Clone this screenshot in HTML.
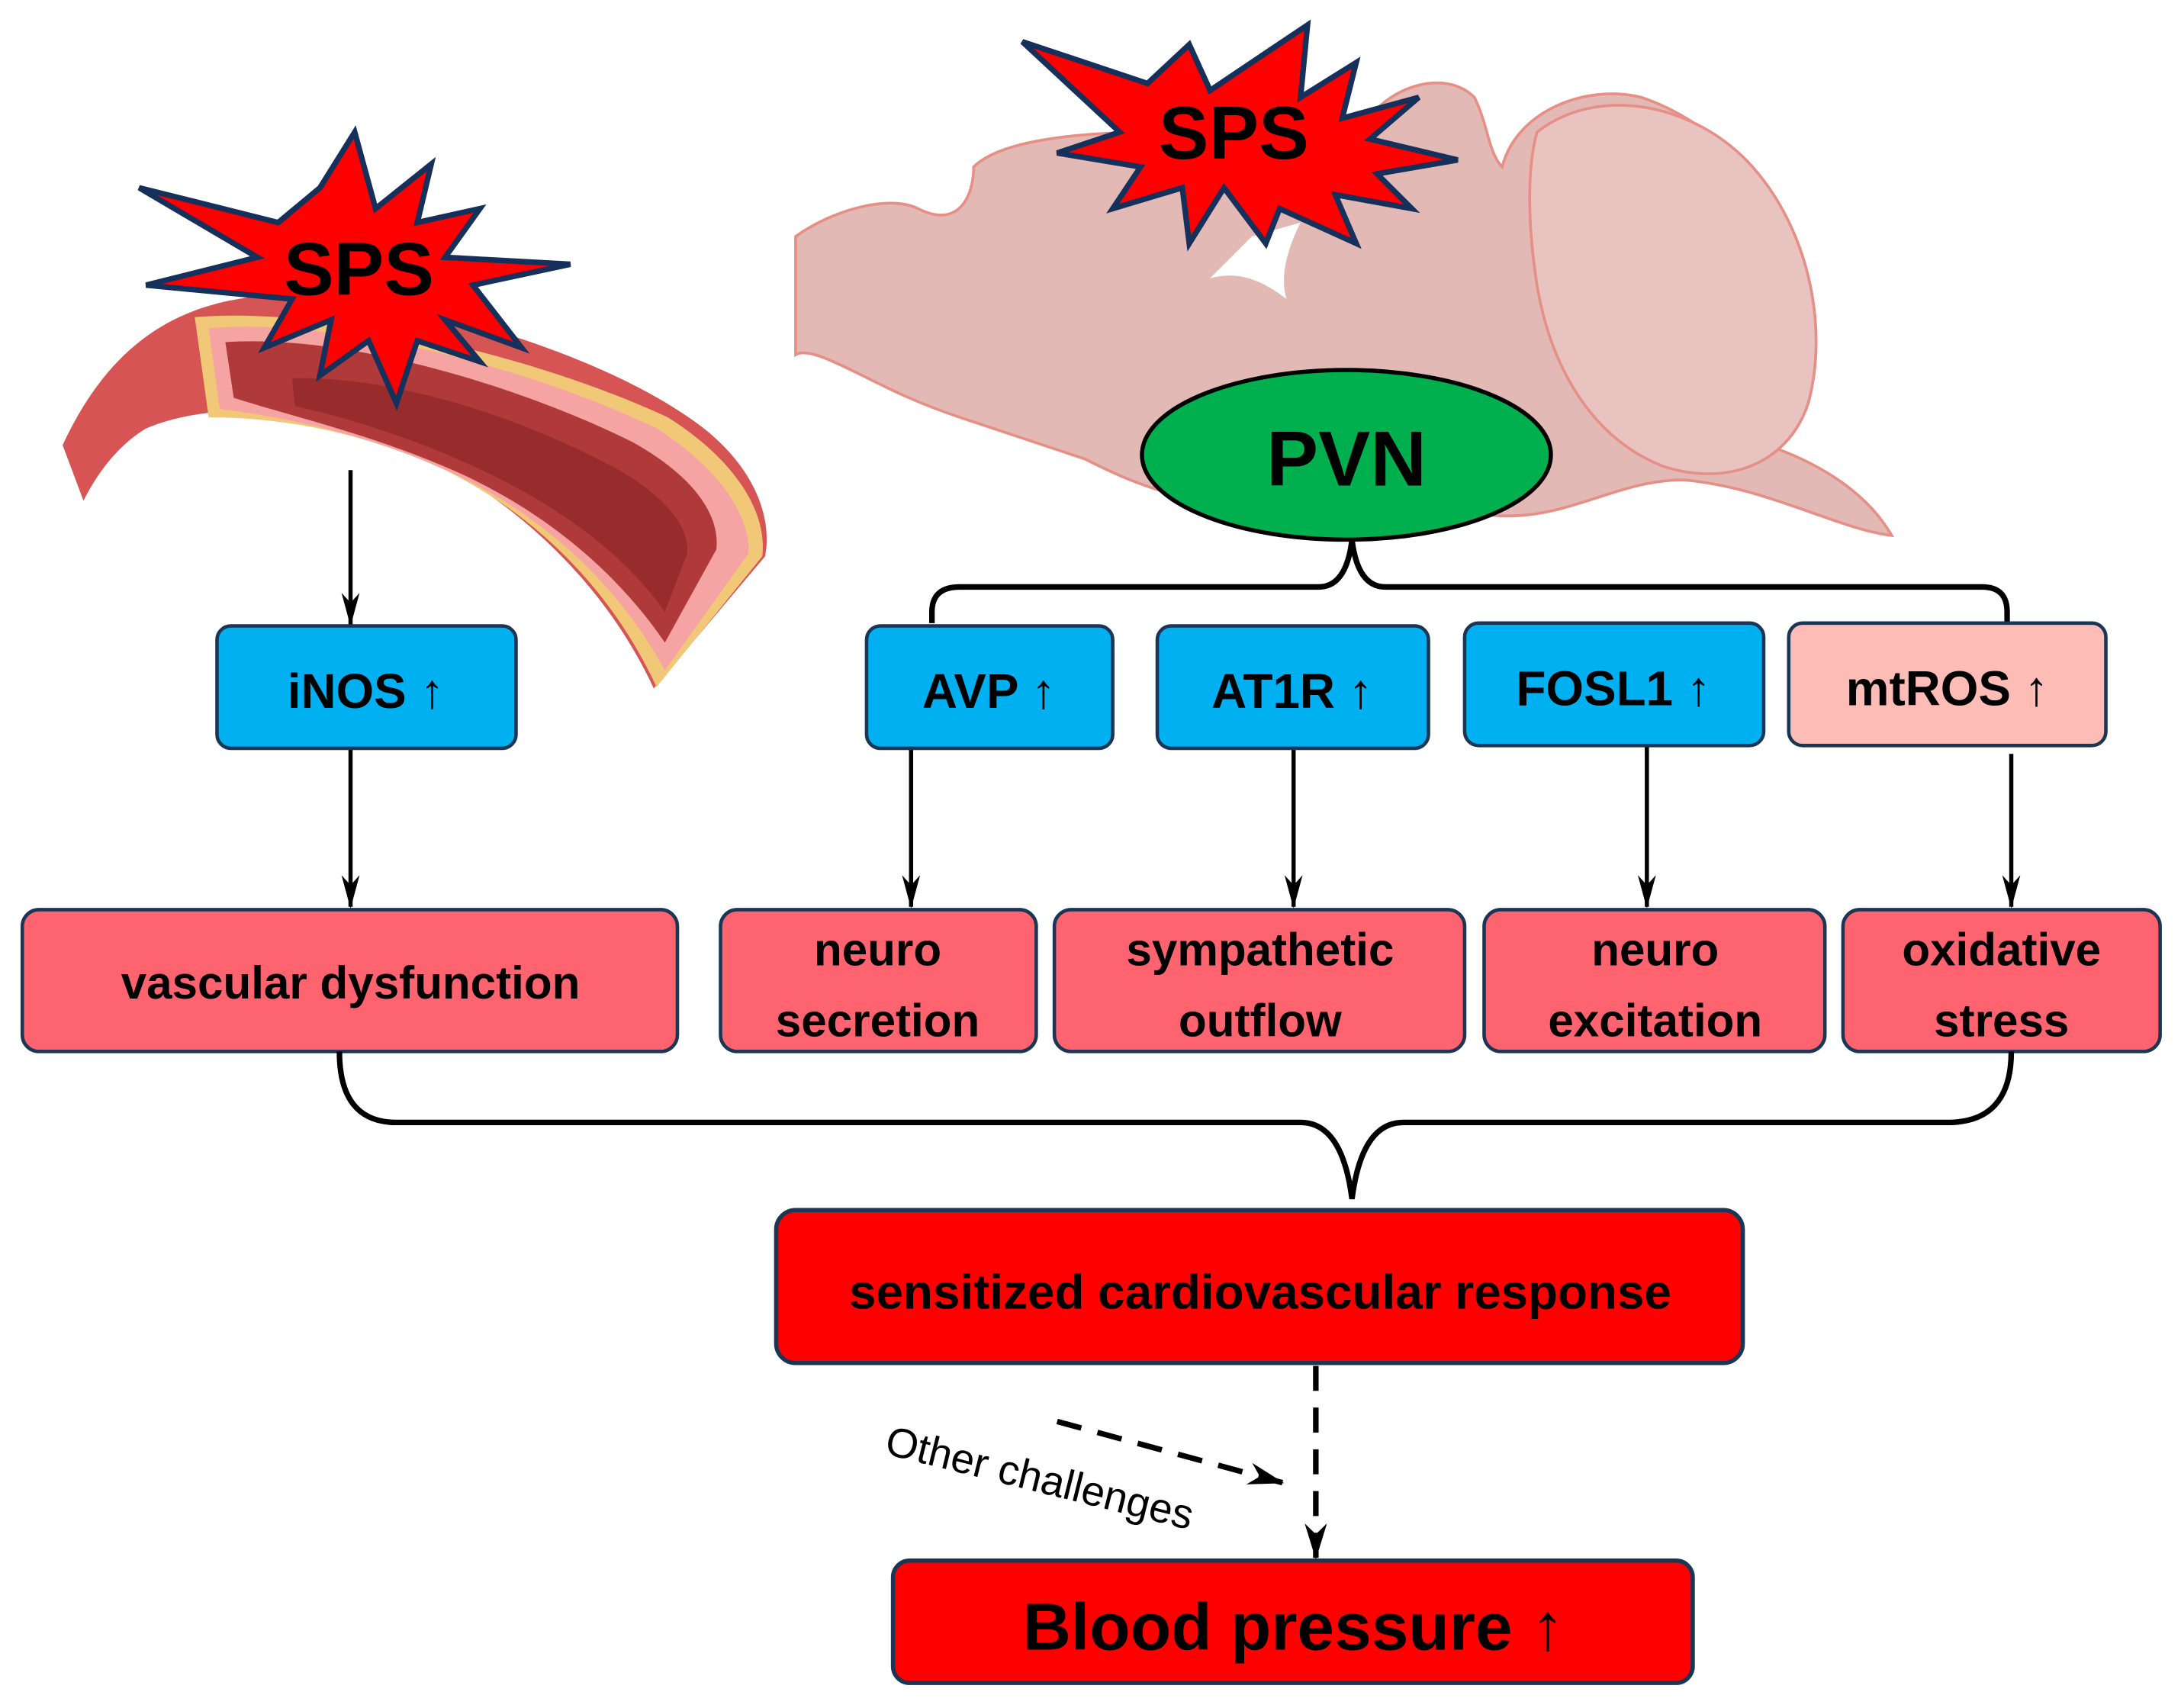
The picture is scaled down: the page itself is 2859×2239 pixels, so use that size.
<!DOCTYPE html>
<html><head><meta charset="utf-8"><style>
html,body{margin:0;padding:0;background:#fff;}
svg{display:block;}
text{font-family:"Liberation Sans",sans-serif;font-weight:bold;fill:#000;}
</style></head><body>
<svg width="2859" height="2239" viewBox="0 0 1568 1228" xmlns="http://www.w3.org/2000/svg">
<defs>
<marker id="ah" viewBox="0 0 10 10" refX="9.5" refY="5" markerWidth="24" markerHeight="13" orient="auto" markerUnits="userSpaceOnUse" preserveAspectRatio="none">
<path d="M0,0 L10,5 L0,10 L3,5 z" fill="#000"/></marker>
<marker id="ah2" viewBox="0 0 10 10" refX="9.5" refY="5" markerWidth="26" markerHeight="16" orient="auto" markerUnits="userSpaceOnUse" preserveAspectRatio="none">
<path d="M0,0 L10,5 L0,10 L3,5 z" fill="#000"/></marker>
</defs>

<!-- Brain -->
<path d="M572,170 C600,150 640,140 660,150 C690,165 700,140 700,120 C720,100 780,95 830,95 L980,90 C1000,60 1040,50 1060,70 C1070,90 1070,110 1080,120 C1090,80 1140,60 1180,70 C1240,90 1290,150 1300,200 C1310,260 1300,300 1270,320 C1300,330 1340,350 1360,385 C1320,380 1270,350 1210,345 C1170,345 1140,365 1100,370 C1060,375 1040,360 1000,360 C960,360 900,370 860,360 C820,350 800,340 780,330 C750,320 720,310 690,300 C660,290 640,280 620,270 C600,260 580,250 572,255 Z" fill="#e3b9b5" stroke="#e58f86" stroke-width="2"/>
<path d="M1105,95 C1150,60 1220,75 1260,120 C1300,165 1315,235 1300,290 C1285,335 1240,350 1195,335 C1145,315 1115,265 1105,205 C1098,160 1098,120 1105,95 Z" fill="#e8c3c0" stroke="#e58f86" stroke-width="2"/>
<path d="M935,160 C925,180 920,200 925,215 C905,200 890,195 870,200 L900,170 Z" fill="#fff"/>

<!-- Vessel -->
<path d="M45,320 C80,245 130,215 200,212 C300,212 430,255 495,300 C540,330 556,370 550,400 L470,495 C440,430 385,370 310,330 C240,295 160,285 105,308 C85,320 70,340 60,360 Z" fill="#d65454"/>
<path d="M140,228 C240,220 390,258 480,300 C528,330 552,368 548,400 L472,494 C445,435 395,375 320,338 C260,310 200,300 150,300 Z" fill="#f0c878"/>
<path d="M150,236 C245,228 385,266 472,308 C515,335 540,370 538,398 L478,482 C450,430 400,375 325,340 C265,312 205,300 158,294 Z" fill="#f5a3a3"/>
<path d="M162,246 C250,240 375,278 455,318 C498,342 518,370 515,395 L478,462 C448,418 400,372 330,340 C270,313 212,300 168,286 Z" fill="#b03a3a"/>
<path d="M210,272 C290,270 385,305 445,338 C480,358 496,380 494,398 L478,440 C450,400 405,365 340,335 C290,312 240,298 212,292 Z" fill="#982c2c"/>

<!-- Stars -->
<polygon points="255,95 270,150 310,118 300,160 345,150 320,185 410,190 340,205 375,250 320,230 345,260 300,245 285,290 265,245 230,270 238,230 190,250 210,215 105,205 185,185 100,135 200,160 230,135" fill="#fe0000" stroke="#15305a" stroke-width="4"/>
<text x="258" y="212" font-size="54" text-anchor="middle">SPS</text>
<polygon points="940,18 935,70 975,45 965,85 1020,70 985,100 1048,115 990,125 1015,150 960,140 975,175 920,150 910,175 880,135 855,175 850,135 800,150 820,120 760,110 805,95 735,30 825,60 855,32 870,65" fill="#fe0000" stroke="#15305a" stroke-width="4"/>
<text x="887" y="114" font-size="54" text-anchor="middle">SPS</text>

<!-- PVN -->
<ellipse cx="968" cy="327" rx="147" ry="61" fill="#00b04f" stroke="#000" stroke-width="3"/>
<text x="968" y="349" font-size="56" text-anchor="middle">PVN</text>

<!-- Top bracket -->
<path d="M670,448 L670,440 Q670,422 690,422 L948,422 Q968,422 972,388 Q976,422 996,422 L1425,422 Q1443,422 1443,440 L1443,448" fill="none" stroke="#000" stroke-width="4"/>

<!-- Arrows -->
<g stroke="#000" stroke-width="3" fill="none" marker-end="url(#ah)">
<line x1="252" y1="338" x2="252" y2="449"/>
<line x1="252" y1="538" x2="252" y2="652"/>
<line x1="655" y1="538" x2="655" y2="652"/>
<line x1="930" y1="538" x2="930" y2="652"/>
<line x1="1184" y1="536" x2="1184" y2="652"/>
<line x1="1446" y1="542" x2="1446" y2="652"/>
</g>

<!-- Blue boxes -->
<g stroke="#1b3555" stroke-width="2.5">
<rect x="156" y="450" width="215" height="88" rx="10" fill="#00b0f0"/>
<rect x="623" y="450" width="177" height="88" rx="10" fill="#00b0f0"/>
<rect x="832" y="450" width="195" height="88" rx="10" fill="#00b0f0"/>
<rect x="1053" y="448" width="215" height="88" rx="10" fill="#00b0f0"/>
<rect x="1286" y="448" width="228" height="88" rx="10" fill="#fdbcb5"/>
</g>
<g font-size="35" text-anchor="middle">
<text x="263" y="509">iNOS ↑</text>
<text x="711" y="509">AVP ↑</text>
<text x="929" y="509">AT1R ↑</text>
<text x="1160" y="507">FOSL1 ↑</text>
<text x="1400" y="507">mtROS ↑</text>
</g>

<!-- Pink boxes -->
<g stroke="#1b3555" stroke-width="2.5" fill="#fe6470">
<rect x="16" y="654" width="471" height="102" rx="12"/>
<rect x="518" y="654" width="227" height="102" rx="12"/>
<rect x="758" y="654" width="295" height="102" rx="12"/>
<rect x="1067" y="654" width="245" height="102" rx="12"/>
<rect x="1325" y="654" width="228" height="102" rx="12"/>
</g>
<g font-size="33" text-anchor="middle">
<text x="252" y="718">vascular dysfunction</text>
<text x="631" y="694">neuro</text><text x="631" y="745">secretion</text>
<text x="906" y="694">sympathetic</text><text x="906" y="745">outflow</text>
<text x="1190" y="694">neuro</text><text x="1190" y="745">excitation</text>
<text x="1439" y="694">oxidative</text><text x="1439" y="745">stress</text>
</g>

<!-- Bottom bracket -->
<path d="M244,756 Q244,807 285,807 L935,807 Q965,807 972,862 Q979,807 1009,807 L1400,807 Q1446,807 1446,756" fill="none" stroke="#000" stroke-width="4"/>

<!-- Sensitized -->
<rect x="558" y="870" width="695" height="110" rx="14" fill="#fe0000" stroke="#1b3555" stroke-width="3"/>
<text x="906" y="941" font-size="35" text-anchor="middle">sensitized cardiovascular response</text>

<!-- Dashed -->
<line x1="946" y1="982" x2="946" y2="1120" stroke="#000" stroke-width="4" stroke-dasharray="18,12" marker-end="url(#ah2)"/>
<line x1="760" y1="1022" x2="922" y2="1066" stroke="#000" stroke-width="4" stroke-dasharray="18,12" marker-end="url(#ah2)"/>
<text x="635" y="1045" font-size="30" style="font-weight:normal" transform="rotate(14 635 1045)">Other challenges</text>

<!-- Blood pressure -->
<rect x="642" y="1122" width="575" height="88" rx="12" fill="#fe0000" stroke="#1b3555" stroke-width="3"/>
<text x="930" y="1186" font-size="48" text-anchor="middle">Blood pressure ↑</text>
</svg>
</body></html>
